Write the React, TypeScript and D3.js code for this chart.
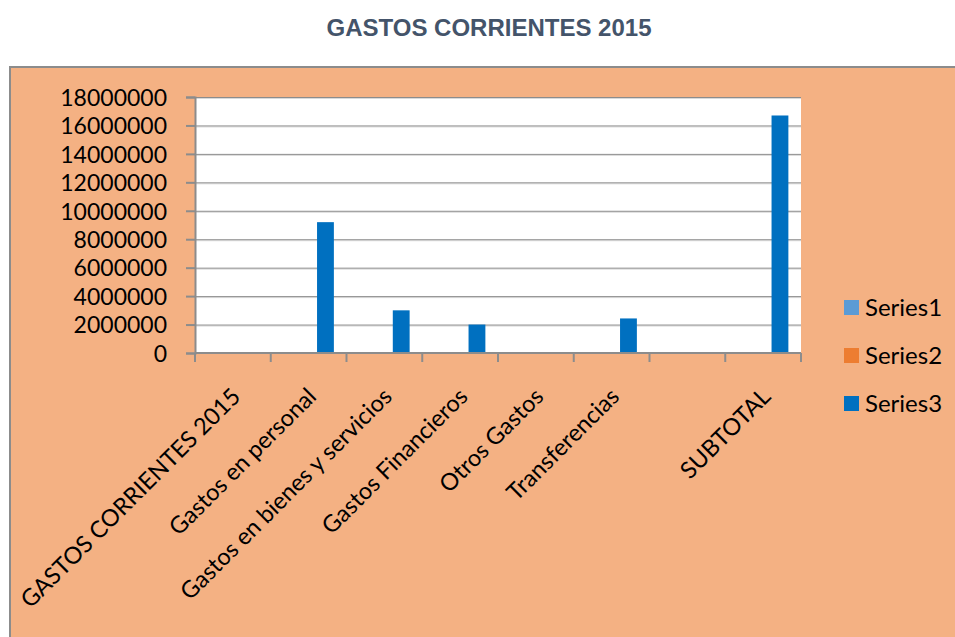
import React, { useEffect, useRef } from 'react';
import * as d3 from 'd3';

const categories = [
  'GASTOS CORRIENTES 2015',
  'Gastos en personal',
  'Gastos en bienes y servicios',
  'Gastos Financieros',
  'Otros Gastos',
  'Transferencias',
  '',
  'SUBTOTAL',
];
const seriesNames = ['Series1', 'Series2', 'Series3'];
const series1: (number | null)[] = [null, null, null, null, null, null, null, null];
const series2: (number | null)[] = [null, null, null, null, null, null, null, null];
const series3: (number | null)[] = [null, 9200000, 3000000, 2000000, null, 2430000, null, 16700000];
const yTicks = [0, 2000000, 4000000, 6000000, 8000000, 10000000, 12000000, 14000000, 16000000, 18000000];
const colors = ['#5B9BD5', '#ED7D31', '#0070C0'];

const App: React.FC = () => {
  const svgRef = useRef<SVGSVGElement>(null);

  useEffect(() => {
    if (!svgRef.current) return;
    document.body.style.margin = '0';
    const W = 955, H = 637;
    const plot = { left: 195, right: 801, top: 97, bottom: 353 };
    const font = 'Lato, "Open Sans", sans-serif';

    const svg = d3.select(svgRef.current);
    svg.selectAll('*').remove();
    svg.attr('width', W).attr('height', H);

    // title
    svg.append('text')
      .attr('x', 489).attr('y', 36)
      .attr('text-anchor', 'middle')
      .attr('font-family', 'Liberation Sans, Arial, sans-serif')
      .attr('font-weight', 'bold')
      .attr('font-size', 24)
      .attr('fill', '#44546A')
      .text('GASTOS CORRIENTES 2015');

    // chart area
    svg.append('rect')
      .attr('x', 10).attr('y', 67)
      .attr('width', W).attr('height', H)
      .attr('fill', '#F4B183')
      .attr('stroke', '#8C8C8C')
      .attr('stroke-width', 2);

    const x0 = d3.scaleBand<number>()
      .domain(categories.map((_, i) => i))
      .range([plot.left, plot.right])
      .padding(0);
    const x1 = d3.scaleBand<string>()
      .domain(seriesNames)
      .range([0, x0.bandwidth()])
      .paddingInner(0)
      .paddingOuter(0.75);
    const y = d3.scaleLinear()
      .domain([0, 18000000])
      .range([plot.bottom, plot.top]);

    // plot area
    svg.append('rect')
      .attr('x', plot.left).attr('y', plot.top)
      .attr('width', plot.right - plot.left)
      .attr('height', plot.bottom - plot.top)
      .attr('fill', '#FFFFFF');

    // gridlines
    const grid = svg.append('g');
    yTicks.slice(1).forEach(t => {
      grid.append('line')
        .attr('x1', plot.left).attr('x2', plot.right)
        .attr('y1', y(t) + 1.5).attr('y2', y(t) + 1.5)
        .attr('stroke', '#D9D9D9').attr('stroke-width', 1);
      grid.append('line')
        .attr('x1', plot.left).attr('x2', plot.right)
        .attr('y1', y(t) + 0.5).attr('y2', y(t) + 0.5)
        .attr('stroke', '#8C8C8C').attr('stroke-width', 1);
    });

    // bars
    const allSeries = [series1, series2, series3];
    allSeries.forEach((vals, si) => {
      svg.append('g')
        .selectAll('rect')
        .data(vals.map((v, i) => ({ v, i })).filter(d => d.v != null))
        .enter()
        .append('rect')
        .attr('x', d => x0(d.i)! + x1(seriesNames[si])!)
        .attr('width', x1.bandwidth())
        .attr('y', d => y(d.v as number))
        .attr('height', d => plot.bottom - y(d.v as number))
        .attr('fill', colors[si]);
    });

    // y axis
    const yAxis = svg.append('g')
      .attr('transform', `translate(${plot.left},0)`)
      .call(d3.axisLeft(y).tickValues(yTicks).tickSize(9).tickPadding(19).tickFormat(d3.format('d')));
    yAxis.select('.domain').attr('stroke', '#8C8C8C').attr('stroke-width', 2);
    yAxis.selectAll('.tick line').attr('stroke', '#8C8C8C').attr('stroke-width', 2);
    yAxis.selectAll('.tick text')
      .attr('font-family', font).attr('font-size', 23).attr('fill', '#000')
      .attr('dy', '0.36em');

    // x axis
    const xLine = svg.append('g');
    xLine.append('line')
      .attr('x1', plot.left).attr('x2', plot.right)
      .attr('y1', plot.bottom).attr('y2', plot.bottom)
      .attr('stroke', '#8C8C8C').attr('stroke-width', 2);
    const xTickPos = categories.map((_, i) => x0(i)!).concat([plot.right]);
    xLine.selectAll('line.tk')
      .data(xTickPos)
      .enter()
      .append('line')
      .attr('class', 'tk')
      .attr('x1', d => d).attr('x2', d => d)
      .attr('y1', plot.bottom).attr('y2', plot.bottom + 9)
      .attr('stroke', '#8C8C8C').attr('stroke-width', 2);

    svg.append('g')
      .selectAll('text')
      .data(categories.map((c, i) => ({ c, i })))
      .enter()
      .append('text')
      .attr('transform', d => `translate(${x0(d.i)! + x0.bandwidth() / 2 + 9},${plot.bottom + 45}) rotate(-45)`)
      .attr('text-anchor', 'end')
      .attr('font-family', font)
      .attr('font-size', 23.5)
      .attr('fill', '#000')
      .text(d => d.c);

    // legend
    const legend = svg.append('g').attr('transform', 'translate(844,300)');
    seriesNames.forEach((s, i) => {
      const g = legend.append('g').attr('transform', `translate(0,${i * 48})`);
      g.append('rect').attr('width', 15).attr('height', 15).attr('fill', colors[i]);
      g.append('text')
        .attr('x', 21).attr('y', 7.5).attr('dy', '0.36em')
        .attr('font-family', font).attr('font-size', 24).attr('fill', '#000')
        .text(s);
    });
  }, []);

  return (
    <div style={{ width: 955, height: 637, background: '#fff' }}>
      <svg ref={svgRef}></svg>
    </div>
  );
};

export default App;
